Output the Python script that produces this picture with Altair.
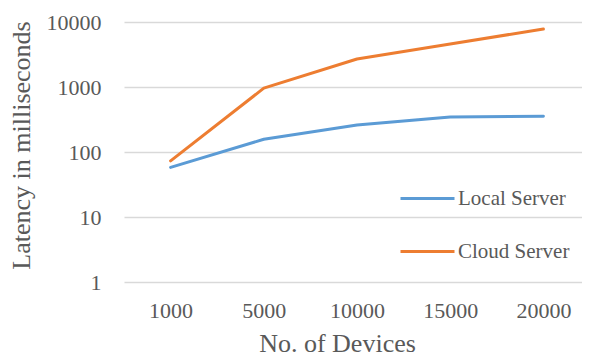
import altair as alt
import pandas as pd

devices = ["1000", "5000", "10000", "15000", "20000"]
local_server = [58, 157, 260, 345, 356]
cloud_server = [73, 960, 2700, 4600, 7800]
series_names = ["Local Server", "Cloud Server"]
series_colors = ["#5B9BD5", "#ED7D31"]
y_ticks = [1, 10, 100, 1000, 10000]

rows = []
for i, d in enumerate(devices):
    rows.append({"devices": d, "latency": local_server[i], "series": series_names[0]})
    rows.append({"devices": d, "latency": cloud_server[i], "series": series_names[1]})
df = pd.DataFrame(rows)

FONT = "Liberation Serif, serif"
TXT = "#595959"

chart = alt.Chart(df).mark_line(strokeWidth=3, strokeCap="round", strokeJoin="round").encode(
    x=alt.X("devices:N", sort=devices,
            scale=alt.Scale(paddingInner=0, paddingOuter=0, align=0.5),
            axis=alt.Axis(title="No. of Devices", labelAngle=0, domain=False, ticks=False,
                          grid=False, labelPadding=18, labelFontSize=22, labelColor=TXT,
                          titleFontSize=26, titleColor=TXT, titleFontWeight="normal",
                          titleX=213, titleY=69, titleBaseline="alphabetic",
                          labelFont=FONT, titleFont=FONT)),
    y=alt.Y("latency:Q",
            scale=alt.Scale(type="log", domain=[1, 10000], nice=False),
            axis=alt.Axis(title="Latency in milliseconds", values=y_ticks, format="d",
                          domain=False, ticks=False, grid=True, gridColor="#D9D9D9",
                          gridWidth=1.3, labelPadding=23, labelFontSize=22, labelColor=TXT,
                          titleFontSize=26, titleColor=TXT, titleFontWeight="normal",
                          titleX=-103, titleY=123, titleBaseline="middle", titleAngle=-90,
                          labelFont=FONT, titleFont=FONT)),
    color=alt.Color("series:N", sort=series_names,
                    scale=alt.Scale(domain=series_names, range=series_colors),
                    legend=alt.Legend(title=None, orient="none", legendX=275, legendY=148,
                                      symbolType="stroke", symbolSize=2916,
                                      symbolStrokeWidth=3, labelOffset=2, rowPadding=14,
                                      labelFontSize=21, labelColor=TXT, labelFont=FONT,
                                      padding=0)),
    order=alt.Order("series:N"),
).properties(
    width=466, height=260,
    autosize=alt.AutoSizeParams(type="none"),
    padding={"left": 116, "top": 14, "right": -8, "bottom": 71},
).configure_view(stroke=None)

chart.save("out.html", embed_options={"renderer": "svg", "actions": False})
